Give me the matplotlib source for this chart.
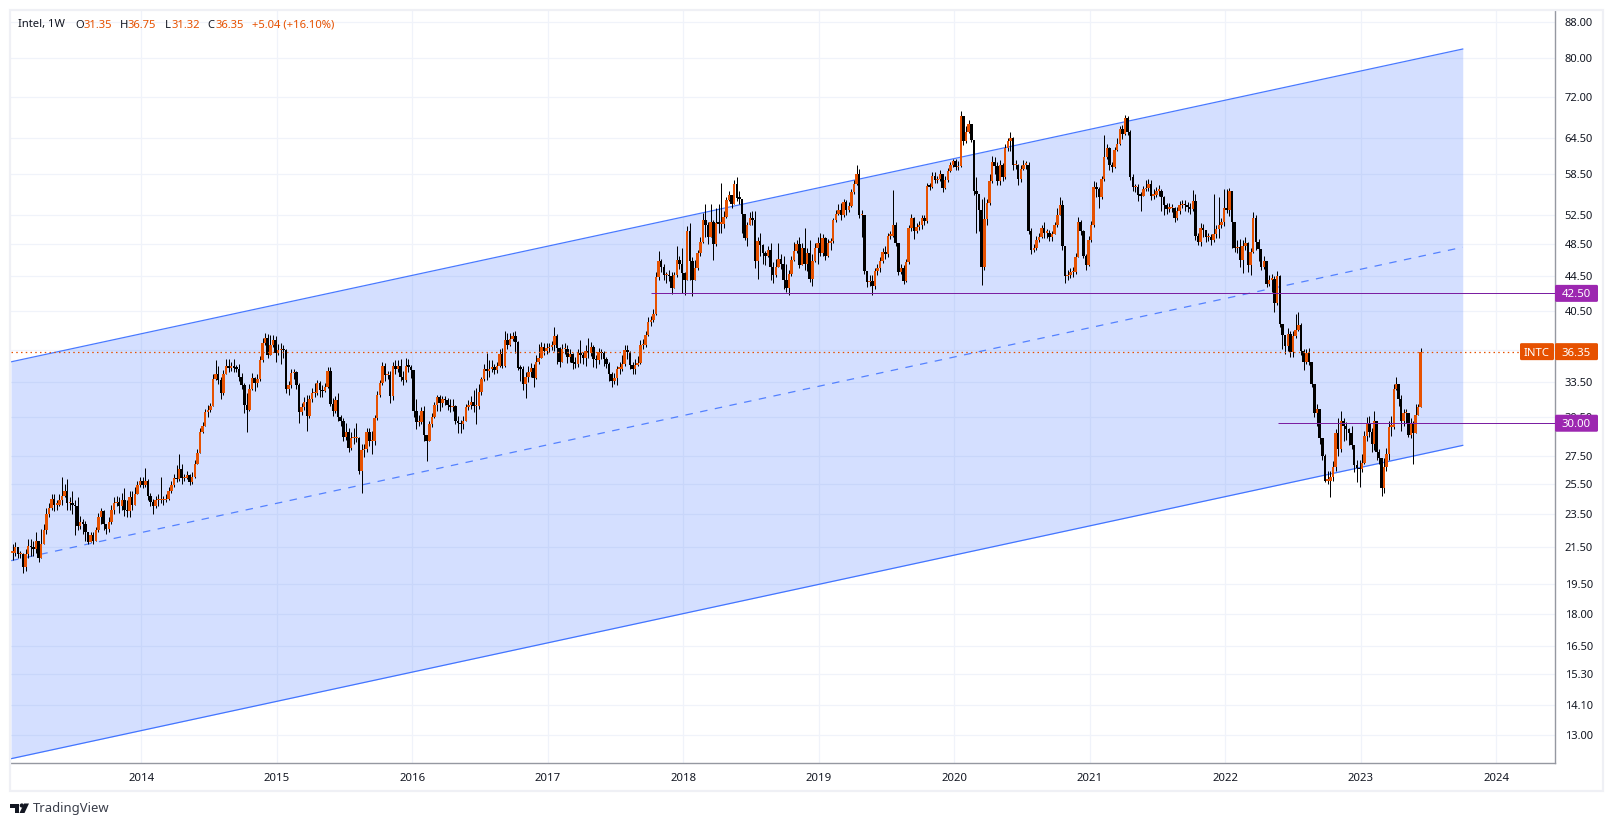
import numpy as np
import matplotlib
matplotlib.use("Agg")
import matplotlib.pyplot as plt
from matplotlib.patches import Rectangle, FancyBboxPatch, Polygon
from matplotlib.transforms import IdentityTransform

# weekly bars per calendar year: (close, high, low); each open continues the previous close
bars_2013 = [(21.2,21.7,20.8),(21.5,21.8,21.0),(21.1,21.5,20.9),(21.1,21.3,20.9),(20.4,21.2,20.1),(21.1,21.4,20.2),(21.6,22.0,20.9),(21.5,22.0,21.0),(21.4,21.9,21.0),(21.9,22.4,21.2),(20.9,21.8,20.7),(21.7,22.6,20.9),(22.5,22.9,21.7),(23.5,23.9,22.3),(23.9,24.2,23.3),(24.5,24.8,23.8),(24.1,24.8,23.7),(24.1,24.4,23.8),(24.4,24.8,24.0),(24.7,26.0,24.1),(25.0,25.5,24.6),(24.2,25.8,23.8),(24.2,24.6,23.8),(24.1,25.0,23.5),(24.0,24.4,22.2),(22.8,24.6,22.5),(23.0,23.4,22.6),(22.9,23.2,22.3),(22.4,23.1,21.9),(21.8,22.2,21.7),(22.2,22.4,21.8),(21.9,22.4,21.7),(22.5,22.7,21.9),(23.3,23.6,22.4),(23.7,23.9,22.9),(22.9,23.8,22.5),(22.6,22.9,22.3),(23.0,23.3,22.4),(23.8,24.1,22.9),(24.2,24.6,23.5),(24.3,24.7,24.0),(24.0,24.6,23.6),(24.4,24.9,23.8),(23.8,25.2,23.4),(23.7,24.4,23.3),(24.6,25.0,23.3),(24.1,25.0,23.8),(24.8,25.3,24.1),(25.4,25.7,24.9),(25.7,26.0,25.3)]
bars_2014 = [(25.4,26.0,25.2),(25.7,26.6,25.3),(24.7,25.8,24.4),(24.3,24.9,24.0),(24.0,24.5,23.5),(24.4,24.7,23.9),(24.4,24.8,24.0),(24.4,26.0,24.2),(24.4,24.7,24.1),(24.5,24.8,24.3),(25.0,25.3,24.4),(25.4,25.7,24.9),(25.9,26.2,25.3),(25.8,26.8,25.6),(26.5,27.6,25.7),(25.9,26.9,25.5),(25.9,26.2,25.7),(26.1,26.4,25.8),(25.6,26.2,25.4),(26.0,26.3,25.5),(26.9,27.2,25.9),(27.7,28.0,26.9),(29.3,29.6,27.7),(29.8,30.1,29.2),(30.9,31.2,29.8),(31.1,31.5,30.5),(31.4,31.7,30.9),(33.8,34.2,31.4),(34.2,35.5,33.7),(33.7,35.0,33.3),(32.5,34.0,32.0),(34.2,34.6,32.4),(35.0,35.6,34.2),(34.8,35.6,34.4),(34.9,35.4,34.5),(34.8,35.6,34.4),(34.7,35.1,34.4),(34.0,35.2,33.6),(33.2,34.3,32.9),(31.5,33.4,30.8),(31.1,32.5,29.3),(32.9,33.3,31.0),(33.9,34.3,32.8),(33.4,34.0,32.7),(33.8,34.2,33.1),(35.5,35.9,33.6),(37.2,37.7,35.4),(37.7,38.2,37.0),(36.0,38.1,35.7),(37.0,38.0,36.2),(37.5,38.0,36.8),(36.2,37.9,35.4)]
bars_2015 = [(36.5,37.1,36.0),(36.6,37.2,35.2),(36.5,37.0,35.7),(32.9,36.6,32.5),(33.2,33.6,32.4),(34.3,34.7,33.0),(34.4,34.7,33.8),(33.2,34.5,32.9),(30.9,33.4,30.0),(31.3,31.7,30.7),(31.8,32.2,31.1),(30.6,32.4,29.4),(32.0,32.4,30.4),(32.5,33.0,31.8),(32.5,33.4,32.2),(33.4,33.7,32.4),(32.8,33.6,32.2),(32.7,33.2,32.2),(33.1,33.4,32.6),(34.5,34.9,33.0),(31.6,34.9,31.4),(31.0,32.1,30.6),(31.9,32.3,30.8),(30.5,32.5,30.2),(30.2,30.7,29.8),(28.9,30.4,28.6),(29.3,30.0,28.7),(28.1,29.6,27.8),(28.8,29.3,27.9),(28.8,29.6,28.4),(28.8,30.0,28.5),(26.4,28.9,26.2),(27.9,28.4,24.9),(28.0,28.4,27.4),(29.3,29.6,27.8),(28.6,29.6,28.2),(28.6,29.4,27.6),(30.4,30.7,28.3),(32.4,32.7,30.3),(33.4,33.7,32.2),(35.0,35.4,33.2),(34.1,35.3,33.6),(34.1,34.5,33.8),(32.3,34.5,31.7),(35.0,35.4,31.9),(34.7,35.5,34.2),(35.0,35.5,34.4),(34.0,35.6,33.6),(33.7,34.5,33.2),(35.0,35.7,33.5),(34.9,35.6,34.4),(34.6,35.1,33.9)]
bars_2016 = [(31.0,34.3,30.5),(30.1,32.0,29.5),(30.1,30.7,29.8),(31.0,31.3,29.9),(29.1,31.4,28.6),(28.6,29.0,27.1),(29.9,30.2,28.7),(30.5,30.8,29.7),(31.5,31.8,30.4),(32.2,32.4,31.0),(31.7,32.4,31.0),(32.0,32.3,31.3),(31.9,32.3,31.5),(31.5,32.1,31.1),(31.3,32.0,30.9),(31.4,32.0,31.0),(30.2,31.5,29.9),(30.0,30.6,29.2),(29.9,30.3,29.2),(30.2,30.6,29.5),(31.3,31.6,30.3),(31.5,31.9,31.1),(31.8,32.3,31.2),(31.4,32.8,30.9),(31.4,33.0,29.9),(32.6,33.3,31.2),(33.8,34.0,32.4),(34.7,35.2,33.6),(34.5,36.2,33.7),(34.7,35.5,34.0),(34.9,35.5,34.4),(34.6,35.2,34.2),(35.0,35.4,34.3),(36.1,36.6,34.9),(35.0,36.7,34.8),(37.5,38.4,34.9),(37.0,38.2,36.6),(37.6,38.2,36.9),(37.9,38.3,37.4),(37.3,38.4,36.2),(34.8,37.4,34.6),(34.7,35.1,33.6),(33.3,35.0,32.8),(34.0,34.4,32.1),(34.4,35.0,33.5),(34.8,35.3,34.0),(33.9,35.2,33.1),(35.4,36.0,33.8),(35.7,37.1,35.2),(36.8,37.3,36.2),(36.4,37.2,36.0),(36.7,37.2,36.1)]
bars_2017 = [(36.8,37.2,36.3),(37.0,37.4,36.5),(37.9,38.8,36.4),(36.7,38.1,35.2),(35.4,36.8,34.9),(36.6,37.1,35.6),(36.6,37.2,36.1),(35.8,37.0,35.3),(36.1,36.6,35.4),(35.3,36.2,34.7),(35.2,35.8,34.8),(36.2,36.6,34.9),(36.0,37.5,35.3),(35.7,36.3,35.2),(36.4,37.0,35.0),(36.2,37.7,35.7),(36.8,37.3,35.9),(35.6,37.0,34.9),(35.5,36.0,34.8),(36.3,36.7,35.2),(36.2,36.6,35.6),(35.6,36.4,35.0),(35.2,35.8,34.8),(34.2,35.4,33.6),(33.6,34.4,33.1),(33.9,34.3,33.3),(34.7,35.0,33.2),(34.7,35.4,34.2),(35.2,36.0,34.5),(36.5,37.0,35.0),(36.3,37.0,35.6),(35.1,36.4,34.7),(34.7,35.4,34.2),(35.1,35.6,34.2),(35.3,35.9,35.0),(37.0,37.5,35.2),(37.0,37.6,36.6),(38.0,38.4,36.8),(39.4,39.9,37.9),(39.6,40.0,38.9),(40.2,40.8,39.4),(44.4,45.0,40.1),(46.3,47.6,44.0),(45.6,46.6,45.0),(44.6,46.0,44.0),(44.6,45.0,43.7),(44.5,45.2,43.9),(43.1,45.0,42.4),(44.6,45.0,43.1),(46.5,48.3,44.4),(46.0,47.0,45.4),(44.9,48.0,42.5)]
bars_2018 = [(44.0,45.0,42.3),(50.3,50.9,44.4),(46.3,51.3,44.0),(44.0,46.8,42.2),(45.5,46.5,44.0),(47.3,47.7,45.2),(48.8,49.5,47.0),(51.8,52.7,48.6),(51.0,54.0,49.5),(49.5,51.5,48.5),(51.4,54.0,49.4),(48.5,51.7,46.5),(51.3,53.5,48.3),(51.2,54.0,50.0),(51.2,57.2,50.0),(52.2,53.0,50.6),(54.6,55.0,52.0),(55.4,56.0,54.5),(54.0,55.0,53.5),(57.0,57.6,54.6),(54.9,58.0,54.5),(54.8,56.0,54.0),(52.6,54.0,50.0),(49.3,51.4,49.0),(51.0,51.5,48.3),(52.0,52.8,51.0),(51.8,53.0,51.0),(46.3,53.0,45.5),(48.9,49.5,44.2),(48.4,50.0,47.0),(47.3,48.5,46.0),(47.0,47.6,45.9),(47.8,48.3,46.8),(45.6,48.7,44.0),(44.7,46.2,43.7),(45.6,46.6,44.4),(46.6,48.7,45.6),(46.0,47.2,45.4),(44.0,47.0,43.0),(43.1,46.0,42.7),(44.8,45.2,42.3),(46.5,47.0,44.5),(47.6,48.8,46.3),(48.5,49.0,47.4),(45.9,49.5,45.5),(48.0,48.6,45.8),(46.0,50.6,45.3),(47.4,48.0,45.1),(44.2,49.0,43.8),(46.4,47.2,43.3),(48.0,48.6,46.2),(48.6,49.5,46.0)]
bars_2019 = [(47.3,50.0,47.0),(49.3,49.8,47.0),(47.0,49.5,46.5),(48.6,49.2,46.8),(48.9,49.3,47.8),(51.7,52.0,48.7),(52.6,53.1,51.4),(53.2,54.0,52.4),(52.5,54.1,51.7),(54.3,54.8,52.2),(53.2,54.6,52.4),(53.7,54.3,52.8),(55.8,56.3,53.6),(57.0,57.6,55.5),(58.6,60.0,56.8),(52.4,59.3,52.0),(52.4,53.2,49.5),(45.1,47.9,44.8),(43.8,45.0,43.2),(43.9,44.7,43.3),(43.4,44.6,42.3),(45.1,45.5,43.0),(45.5,46.0,44.6),(46.3,46.8,45.0),(47.5,48.0,46.1),(47.2,48.3,46.6),(49.6,50.0,46.8),(49.6,50.2,49.2),(51.0,56.1,49.4),(48.7,51.4,48.2),(45.0,48.0,44.6),(45.5,46.0,44.8),(43.9,45.8,43.6),(46.2,46.6,43.8),(50.6,51.0,46.0),(52.0,52.6,50.2),(50.3,52.2,49.2),(50.8,51.3,50.0),(51.0,51.6,50.4),(52.0,52.4,50.5),(51.6,52.5,51.0),(56.7,57.2,51.3),(56.6,57.1,56.1),(58.3,58.9,56.4),(57.6,58.8,57.1),(57.8,58.3,57.1),(58.5,59.2,57.5),(56.4,58.6,55.8),(57.6,58.2,56.2),(59.0,59.5,57.3),(60.0,60.5,58.8),(60.6,61.0,59.6)]
bars_2020 = [(59.6,61.0,59.2),(59.8,60.6,59.2),(68.4,69.3,59.7),(63.9,67.0,63.2),(65.5,66.6,63.6),(67.0,67.6,65.3),(64.2,67.0,63.8),(56.0,61.5,55.4),(55.5,58.0,50.0),(53.2,54.2,50.3),(45.6,54.8,43.5),(51.9,55.0,45.2),(54.1,54.8,51.0),(57.5,58.5,53.8),(60.4,61.5,57.2),(59.8,61.3,58.6),(57.4,60.4,56.8),(60.0,60.8,56.8),(58.0,60.3,57.5),(62.7,63.5,57.8),(64.0,64.5,62.3),(64.4,65.5,62.2),(59.9,64.6,59.2),(60.0,60.8,59.3),(57.8,60.2,56.8),(59.4,60.0,57.3),(60.0,60.8,59.1),(60.0,60.6,59.4),(50.3,60.5,49.9),(47.8,50.6,47.2),(48.0,48.5,47.5),(49.1,49.6,47.8),(49.5,50.0,48.8),(50.6,51.1,49.3),(50.0,51.4,49.3),(50.0,50.5,49.3),(49.4,50.4,48.9),(49.9,50.3,48.9),(51.0,51.5,49.8),(52.5,53.5,50.8),(53.9,55.0,52.5),(48.3,54.6,47.8),(44.5,47.9,43.7),(44.7,45.3,44.0),(45.0,45.5,44.3),(45.0,45.6,44.4),(46.9,47.3,44.8),(51.4,52.2,46.8),(50.2,51.8,49.7),(47.0,50.4,46.7),(45.8,47.2,45.2),(49.1,49.6,45.7)]
bars_2021 = [(51.0,51.6,48.8),(56.5,57.4,50.8),(56.2,57.3,55.0),(55.0,56.5,53.5),(57.7,58.2,54.8),(61.2,65.0,57.5),(62.8,63.4,61.0),(59.9,63.0,59.2),(59.7,60.5,58.8),(62.5,63.0,59.5),(63.5,64.4,62.2),(66.0,66.6,63.2),(65.2,66.8,64.3),(68.0,68.6,65.0),(65.6,68.4,65.0),(58.0,65.8,57.6),(56.5,58.6,55.9),(56.5,57.0,55.8),(55.3,57.0,54.5),(55.2,55.8,53.0),(56.2,56.7,55.2),(56.4,57.6,55.9),(57.0,57.8,56.0),(55.2,57.6,54.6),(55.4,56.2,54.8),(56.0,56.6,55.0),(56.0,56.8,55.2),(55.0,56.2,53.0),(53.8,55.2,52.4),(53.3,54.2,52.6),(53.4,54.2,52.8),(53.4,54.0,52.9),(52.0,53.6,51.4),(53.0,53.6,51.8),(53.8,54.5,52.6),(54.0,54.6,53.4),(53.8,54.6,53.0),(53.6,54.3,52.9),(53.3,54.2,52.6),(54.4,56.1,53.0),(49.6,55.5,49.0),(48.8,50.0,48.4),(50.7,51.3,48.3),(50.4,51.2,49.4),(49.4,50.4,48.8),(49.4,50.0,48.9),(49.0,49.8,48.4),(49.9,55.5,48.8),(50.5,51.0,49.3),(51.0,55.0,49.3),(51.5,52.0,50.7),(53.5,56.2,50.9)]
bars_2022 = [(53.2,56.2,52.7),(56.0,56.4,52.3),(51.4,52.5,48.0),(48.0,50.2,47.5),(48.1,49.0,47.3),(46.5,49.2,45.6),(48.2,49.0,44.9),(48.6,49.4,47.8),(45.9,48.8,45.0),(47.5,48.0,44.6),(52.0,52.8,47.3),(48.8,52.4,47.8),(47.9,49.2,46.3),(45.6,47.9,45.2),(46.3,47.0,45.4),(43.6,46.4,43.2),(44.1,44.6,43.4),(44.2,44.8,42.6),(41.4,44.5,40.4),(44.5,45.1,41.2),(39.1,44.6,38.8),(38.0,39.2,36.6),(36.9,38.0,36.1),(38.1,38.7,36.4),(36.3,38.4,35.8),(37.9,38.4,35.8),(38.5,40.2,37.7),(39.0,40.4,38.4),(36.4,39.3,36.0),(35.4,36.6,34.6),(36.2,36.6,35.2),(35.4,36.7,35.1),(33.3,34.6,33.1),(30.8,33.3,30.5),(31.2,31.6,29.8),(28.8,31.2,28.4),(27.5,28.8,27.2),(25.7,27.6,25.6),(25.7,26.4,25.5),(26.0,26.4,24.6),(26.7,27.1,25.7),(29.2,29.5,26.4),(28.0,30.4,27.5),(30.2,31.0,27.8),(29.8,30.4,28.6),(29.5,30.1,28.7),(29.2,29.6,28.3),(28.3,29.8,28.0),(26.8,28.2,26.3),(26.6,27.2,25.6),(26.5,27.2,25.3)]
bars_2023 = [(27.0,27.6,26.3),(29.0,29.4,26.9),(30.0,30.5,28.6),(29.3,30.6,28.9),(28.4,29.6,27.8),(30.2,31.0,27.9),(27.8,30.0,27.2),(27.3,28.0,26.9),(25.2,27.1,24.7),(26.7,27.3,24.9),(27.6,28.1,26.4),(29.7,30.2,27.2),(29.7,30.6,29.0),(32.9,33.3,29.5),(33.3,34.0,32.8),(32.0,33.3,31.4),(30.2,32.4,29.4),(30.8,31.2,29.8),(30.8,31.2,30.0),(29.1,30.7,28.9),(30.0,30.4,28.8),(29.2,30.2,26.9),(30.7,31.6,29.4),(31.31,31.6,30.9),(36.35,36.75,31.32)]

years = [2013, 2014, 2015, 2016, 2017, 2018, 2019, 2020, 2021, 2022, 2023]
all_years = [bars_2013, bars_2014, bars_2015, bars_2016, bars_2017, bars_2018, bars_2019, bars_2020, bars_2021, bars_2022, bars_2023]
year_starts = [2013.04] + years[1:]
year_ends = years[1:] + [2023.45]

y_ticks = [88, 80, 72, 64.5, 58.5, 52.5, 48.5, 44.5, 40.5, 36.5, 33.5, 30.5, 27.5, 25.5, 23.5, 21.5, 19.5, 18, 16.5, 15.3, 14.1, 13]
x_ticks = [2014, 2015, 2016, 2017, 2018, 2019, 2020, 2021, 2022, 2023, 2024]

channel_x = [2013.038, 2023.752]
channel_upper = [35.37, 81.85]
channel_mid = [20.75, 48.10]
channel_lower = [12.20, 28.27]
level_a, level_a_from = 42.5, 2017.76
level_b, level_b_from = 30.0, 2022.39
last_close = 36.35

UP, DOWN = "#E65100", "#000000"
BLUE, PURPLE = "#2962FF", "#7B1FA2"
GRID = "#F0F3FA"
AXIS = "#9598A1"
TEXT = "#131722"
FONT = "Noto Sans"
W, H = 1613, 826

plt.rcParams["font.family"] = [FONT, "DejaVu Sans"]
fig = plt.figure(figsize=(W / 100, H / 100), dpi=100, facecolor="white")
L, T, R, B = 11, 10, 1555, 763
ax = fig.add_axes([L / W, 1 - B / H, (R - L) / W, (B - T) / H])
ax.set_yscale("log")
ax.set_xlim(2013.038, 2024.433)
ax.set_ylim(12.06, 90.88)

ax.yaxis.tick_right()
ax.set_yticks(y_ticks)
ax.set_yticklabels([f"{v:.2f}" for v in y_ticks], fontsize=8.0, color=TEXT)
ax.yaxis.set_minor_locator(matplotlib.ticker.NullLocator())
ax.set_xticks(x_ticks)
ax.set_xticklabels([str(v) for v in x_ticks], fontsize=8.2, color=TEXT)
ax.tick_params(axis="both", length=0)
ax.tick_params(axis="y", pad=7)
ax.tick_params(axis="x", pad=7)
ax.grid(True, color=GRID, lw=0.9, zorder=0)
ax.set_axisbelow(True)
for side in ("left", "top"):
    ax.spines[side].set_visible(False)
for side in ("right", "bottom"):
    ax.spines[side].set_color(AXIS)
    ax.spines[side].set_linewidth(1.0)

# channel
ax.fill_between(channel_x, channel_lower, channel_upper, color=BLUE, alpha=0.2, lw=0, zorder=1)
ax.plot(channel_x, channel_upper, color=BLUE, lw=0.9, alpha=0.85, zorder=2)
ax.plot(channel_x, channel_lower, color=BLUE, lw=0.9, alpha=0.85, zorder=2)
ax.plot(channel_x, channel_mid, color=BLUE, lw=0.9, alpha=0.75, dashes=(6, 6), zorder=2)

# candles
xs, cs, hs, ls = [], [], [], []
for start, end, rows in zip(year_starts, year_ends, all_years):
    step = (end - start) / len(rows)
    for i, (c, h, l) in enumerate(rows):
        xs.append(start + (i + 0.5) * step)
        cs.append(c); hs.append(h); ls.append(l)
xs, cs, hs, ls = map(np.array, (xs, cs, hs, ls))
os_ = np.r_[cs[0], cs[:-1]]
os_[-1] = 31.35
colors = [UP if c >= o else DOWN for o, c in zip(os_, cs)]
hi = np.maximum.reduce([hs, os_, cs])
lo = np.minimum.reduce([ls, os_, cs])
ax.vlines(xs, lo, hi, colors=DOWN, lw=0.72, zorder=3)
body_w = 2.5 / 135.5
body_h = np.maximum(np.abs(cs - os_), cs * 0.004)
ax.bar(xs, body_h, bottom=np.minimum(os_, cs), width=body_w, color=colors, lw=0, zorder=4)

# levels
ax.hlines(level_a, level_a_from, ax.get_xlim()[1], color=PURPLE, lw=0.72, zorder=5)
ax.hlines(level_b, level_b_from, ax.get_xlim()[1], color=PURPLE, lw=0.72, zorder=5)
ax.plot(ax.get_xlim(), [last_close, last_close], color=UP, lw=0.9, dashes=(1.2, 2.6), zorder=5)

# price labels on the axis
fig.canvas.draw()
def py(v):
    return ax.transData.transform((ax.get_xlim()[0], v))[1]
def label(x0, x1, v, txt, col):
    y = py(v)
    fig.add_artist(FancyBboxPatch((x0 + 1, y - 7.5), x1 - x0 - 2, 15, boxstyle="round,pad=1,rounding_size=1.5",
                                  transform=IdentityTransform(), fc=col, ec="none", zorder=20))
    fig.text((x0 + x1) / 2 / W, y / H, txt, color="white", fontsize=8.2, fontweight="bold",
             ha="center", va="center_baseline", zorder=21)
label(1555, 1598, level_a, f"{level_a:.2f}", "#9C27B0")
label(1555, 1598, level_b, f"{level_b:.2f}", "#9C27B0")
label(1555, 1598, last_close, f"{last_close:.2f}", UP)
label(1520, 1554, last_close, "INTC", UP)

# outer frame
fig.add_artist(Rectangle((10, H - 791), 1593, 781, transform=IdentityTransform(), fill=False,
                         ec="#EFF0F5", lw=1.6, zorder=10))

# header
head = [(18, "Intel, 1W", TEXT), (75, "O", TEXT), (83, "31.35", UP), (120, "H", TEXT), (128, "36.75", UP),
        (165, "L", TEXT), (172, "31.32", UP), (207, "C", TEXT), (215, "36.35", UP), (252, "+5.04 (+16.10%)", UP)]
for hx, s, col in head:
    fig.text(hx / W, 1 - 25 / H, s, color=col, fontsize=8.1, va="center")

# TradingView mark
def poly(pts, col="#131722"):
    fig.add_artist(Polygon([(x, H - y) for x, y in pts], closed=True, transform=IdentityTransform(),
                           fc=col, ec="none", zorder=10))
poly([(10, 803.5), (19, 803.5), (19, 813), (14.5, 813), (14.5, 808), (10, 808)])
poly([(24, 803.5), (29, 803.5), (24.5, 813), (19.5, 813)])
fig.add_artist(plt.Circle((21.8, H - 805.5), 2.1, transform=IdentityTransform(), fc="#131722", ec="none", zorder=10))
fig.text(33 / W, 1 - 808.5 / H, "TradingView", color="#3A3E4A", fontsize=9.4, va="center")

fig.savefig("out.png", dpi=100, facecolor="white")
